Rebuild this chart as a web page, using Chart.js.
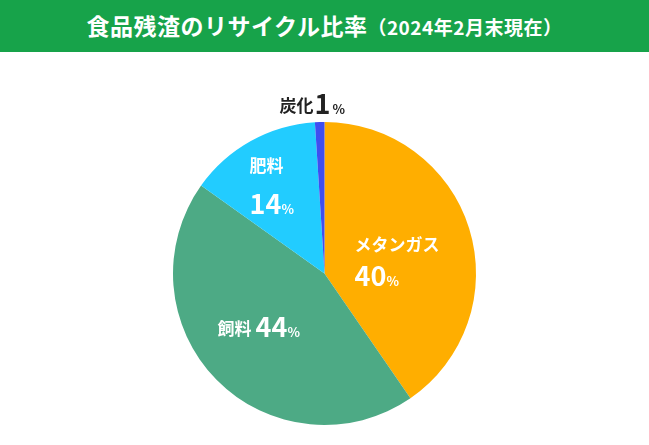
<!DOCTYPE html>
<html><head><meta charset="utf-8">
<script src="https://cdn.jsdelivr.net/npm/chart.js@4"></script>
<style>
body{margin:0;background:#fff;width:649px;height:445px;overflow:hidden;font-family:"Noto Sans CJK JP",sans-serif}
#title{height:52px;background:#17a34a;color:#fff;font-weight:bold;font-size:23px;line-height:50px;text-align:center;letter-spacing:0.5px}
#title small{font-size:19px}
#wrap{position:absolute;left:0;top:52px;width:649px;height:393px}
</style></head><body>
<div id="title">食品残渣のリサイクル比率<small>（2024年2月末現在）</small></div>
<div id="wrap"><canvas id="c"></canvas></div>
<script>
const labels = ["メタンガス", "飼料", "肥料", "炭化"]
const values = [40, 44, 14, 1]
const colors = ["#ffae00", "#4daa85", "#22ccff", "#3f4ef0"]

const labelPlugin = {
    id: "sliceLabels",
    afterDatasetsDraw(chart) {
        const ctx = chart.ctx
        const arcs = chart.getDatasetMeta(0).data
        const font = "'Noto Sans CJK JP', sans-serif"
        ctx.save()
        ctx.textBaseline = "alphabetic"
        // メタンガス
        let a = arcs[0]
        ctx.fillStyle = "#fff"; ctx.textAlign = "left"
        ctx.font = "bold 17px " + font
        ctx.fillText(labels[0], a.x + 30, a.y - 23)
        ctx.font = "bold 27px " + font
        ctx.fillText(values[0], a.x + 30, a.y + 12)
        ctx.font = "bold 13px " + font
        ctx.fillText("%", a.x + 62, a.y + 12)
        // 飼料
        ctx.font = "bold 17px " + font
        ctx.fillText(labels[1], a.x - 107, a.y + 61)
        ctx.font = "bold 27px " + font
        ctx.fillText(values[1], a.x - 69, a.y + 63)
        ctx.font = "bold 13px " + font
        ctx.fillText("%", a.x - 37, a.y + 63)
        // 肥料
        ctx.font = "bold 17px " + font
        ctx.fillText(labels[2], a.x - 75, a.y - 102)
        ctx.font = "bold 27px " + font
        ctx.fillText(values[2], a.x - 75, a.y - 60)
        ctx.font = "bold 13px " + font
        ctx.fillText("%", a.x - 43, a.y - 60)
        // 炭化
        ctx.fillStyle = "#222"
        ctx.font = "bold 17px " + font
        ctx.fillText(labels[3], a.x - 45, a.y - 162)
        ctx.font = "bold 27px " + font
        ctx.fillText(values[3], a.x - 10, a.y - 160)
        ctx.font = "bold 13px " + font
        ctx.fillText("%", a.x + 8, a.y - 160)
        ctx.restore()
    }
}

new Chart(document.getElementById("c").getContext("2d"), {
    type: "pie",
    data: { labels: labels, datasets: [{ data: values, backgroundColor: colors, borderWidth: 0 }] },
    options: {
        responsive: true,
        maintainAspectRatio: false,
        animation: false,
        layout: { padding: { top: 70, bottom: 20 } },
        plugins: { legend: { display: false }, tooltip: { enabled: false } }
    },
    plugins: [labelPlugin]
})
</script>
</body></html>
